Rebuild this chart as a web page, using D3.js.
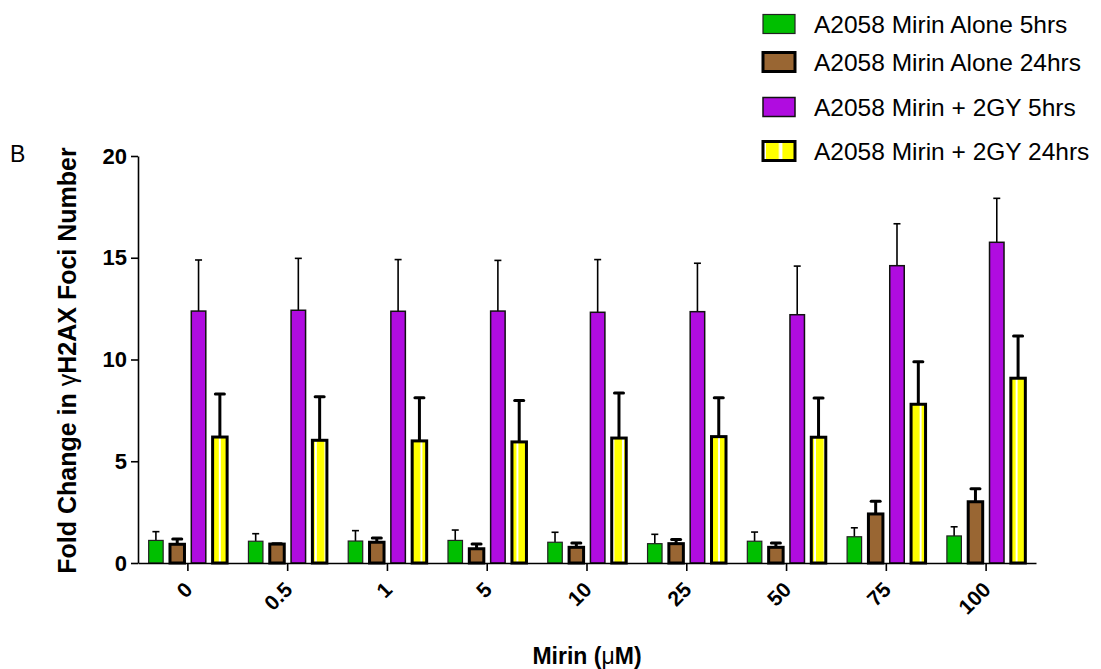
<!DOCTYPE html>
<html>
<head>
<meta charset="utf-8">
<script src="https://cdn.jsdelivr.net/npm/d3@7"></script>
<style>
  body { margin: 0; background: #fff; }
  svg { display: block; }
  text { font-family: Arial, "Liberation Sans", Helvetica, sans-serif; fill: #000; }
</style>
</head>
<body>
<svg id="chart" width="1101" height="669"></svg>
<script>
// Mirin concentrations (µM) on the x axis
const doses = ["0", "0.5", "1", "5", "10", "25", "50", "75", "100"];

const seriesLabels = [
  "A2058 Mirin Alone 5hrs",
  "A2058 Mirin Alone 24hrs",
  "A2058 Mirin + 2GY 5hrs",
  "A2058 Mirin + 2GY 24hrs"
];

// Fold change in γH2AX foci number: means and SEM
const alone5Mean  = [1.11, 1.07, 1.08, 1.11, 1.02, 0.95, 1.07, 1.29, 1.33];
const alone5Sem   = [0.43, 0.37, 0.51, 0.51, 0.49, 0.46, 0.45, 0.44, 0.45];
const alone24Mean = [0.92, 0.93, 1.02, 0.70, 0.77, 0.95, 0.77, 2.41, 3.01];
const alone24Sem  = [0.26, 0.02, 0.21, 0.23, 0.21, 0.21, 0.21, 0.62, 0.64];
const ir5Mean     = [12.38, 12.42, 12.37, 12.38, 12.32, 12.35, 12.20, 14.61, 15.76];
const ir5Sem      = [2.51, 2.55, 2.54, 2.49, 2.59, 2.38, 2.39, 2.06, 2.16];
const ir24Mean    = [6.19, 6.03, 6.00, 5.95, 6.14, 6.21, 6.18, 7.80, 9.08];
const ir24Sem     = [2.11, 2.14, 2.12, 2.03, 2.21, 1.91, 1.93, 2.09, 2.07];

const yTicks = [0, 5, 10, 15, 20];

// ---- styling per series ----
const seriesStyle = [
  { fill: "#00bf00", stroke: "#222", sw: 1.2, ew: 1.6, cap: 7 },
  { fill: "#996633", stroke: "#000", sw: 3,   ew: 3,   cap: 9 },
  { fill: "#b00ce0", stroke: "#111", sw: 1.5, ew: 1.6, cap: 7 },
  { fill: "url(#yellowStripes)", stroke: "#000", sw: 3, ew: 3, cap: 9 }
];

const series = [
  { mean: alone5Mean,  sem: alone5Sem },
  { mean: alone24Mean, sem: alone24Sem },
  { mean: ir5Mean,     sem: ir5Sem },
  { mean: ir24Mean,    sem: ir24Sem }
];

const svg = d3.select("#chart");
svg.append("rect").attr("width", 1101).attr("height", 669).attr("fill", "#fff");

// striped yellow fill (bars and legend swatch)
const defs = svg.append("defs");
function stripePattern(id, period, stripeW, offset) {
  const p = defs.append("pattern")
    .attr("id", id)
    .attr("patternUnits", "userSpaceOnUse")
    .attr("x", offset)
    .attr("width", period).attr("height", 10);
  p.append("rect").attr("width", period).attr("height", 10).attr("fill", "#ffff00");
  p.append("rect").attr("x", period - stripeW).attr("width", stripeW).attr("height", 10).attr("fill", "#fff");
}
stripePattern("yellowStripes", 9.6, 2, 0);
stripePattern("yellowStripesLegend", 16.4, 3.5, 3);

// ---- scales ----
const plot = { left: 138, right: 1036, top: 156, bottom: 563 };

const x0 = d3.scaleBand().domain(doses).range([plot.left, plot.right]).padding(0);
const x1 = d3.scaleBand().domain(d3.range(series.length))
  .range([0, x0.bandwidth()]).paddingInner(0.32).paddingOuter(0.5);
const y = d3.scaleLinear().domain([0, 20]).range([plot.bottom, plot.top]);

// ---- bars and error bars ----
series.forEach((s, si) => {
  const st = seriesStyle[si];
  const g = svg.append("g").attr("class", "series-" + si);
  const rows = doses.map((d, i) => ({ dose: d, mean: s.mean[i], sem: s.sem[i] }));
  const cx = d => x0(d.dose) + x1(si) + x1.bandwidth() / 2;

  g.selectAll("line.err").data(rows).join("line")
    .attr("class", "err")
    .attr("x1", cx).attr("x2", cx)
    .attr("y1", d => y(d.mean))
    .attr("y2", d => y(d.mean + d.sem))
    .attr("stroke", "#000").attr("stroke-width", st.ew);

  g.selectAll("line.cap").data(rows).join("line")
    .attr("class", "cap")
    .attr("x1", d => cx(d) - st.cap / 2)
    .attr("x2", d => cx(d) + st.cap / 2)
    .attr("y1", d => y(d.mean + d.sem))
    .attr("y2", d => y(d.mean + d.sem))
    .attr("stroke", "#000").attr("stroke-width", st.ew)
    .attr("stroke-linecap", st.ew > 2 ? "round" : "butt");

  g.selectAll("rect").data(rows).join("rect")
    .attr("x", d => x0(d.dose) + x1(si))
    .attr("y", d => y(d.mean))
    .attr("width", x1.bandwidth())
    .attr("height", d => y(0) - y(d.mean))
    .attr("fill", st.fill)
    .attr("stroke", st.stroke)
    .attr("stroke-width", st.sw);
});

// ---- axes ----
const yAxis = svg.append("g")
  .attr("transform", `translate(${plot.left},0)`)
  .call(d3.axisLeft(y).tickValues(yTicks).tickSize(7).tickSizeOuter(0).tickPadding(4));
yAxis.select(".domain").attr("stroke", "#000").attr("stroke-width", 1.6);
yAxis.selectAll(".tick line").attr("stroke", "#000").attr("stroke-width", 1.6);
yAxis.selectAll(".tick text")
  .attr("font-size", 22).attr("font-weight", "bold")
  .attr("font-family", "Arial, 'Liberation Sans', sans-serif")
  .attr("fill", "#000");

const xAxis = svg.append("g")
  .attr("transform", `translate(0,${plot.bottom})`)
  .call(d3.axisBottom(x0).tickSize(8).tickSizeOuter(0));
xAxis.select(".domain").attr("stroke", "#000").attr("stroke-width", 1.6);
xAxis.selectAll(".tick line").attr("stroke", "#000").attr("stroke-width", 1.6);
xAxis.selectAll(".tick text")
  .attr("font-size", 21).attr("font-weight", "bold")
  .attr("font-family", "Arial, 'Liberation Sans', sans-serif")
  .attr("fill", "#000")
  .attr("text-anchor", "end")
  .attr("x", 0).attr("y", 0).attr("dy", null)
  .attr("transform", "translate(6,28) rotate(-45)");

// ---- axis titles ----
const yTitle = svg.append("text")
  .attr("transform", `translate(76,${(plot.top + plot.bottom) / 2 + 1}) rotate(-90)`)
  .attr("text-anchor", "middle")
  .attr("font-size", 25).attr("font-weight", "bold");
yTitle.append("tspan").text("Fold Change in ");
yTitle.append("tspan").attr("font-weight", "normal").text("γ");
yTitle.append("tspan").text("H2AX Foci Number");

const xTitle = svg.append("text")
  .attr("x", 587)
  .attr("y", 664)
  .attr("text-anchor", "middle")
  .attr("font-size", 23).attr("font-weight", "bold");
xTitle.append("tspan").text("Mirin (");
xTitle.append("tspan").attr("font-weight", "normal").text("μ");
xTitle.append("tspan").text("M)");

// panel letter
svg.append("text").attr("x", 10).attr("y", 162).attr("font-size", 23).text("B");

// ---- legend ----
const legendRowY = [24, 62, 107, 151];
const legend = svg.append("g");
seriesLabels.forEach((label, i) => {
  const st = seriesStyle[i];
  const row = legend.append("g").attr("transform", `translate(763,${legendRowY[i]})`);
  row.append("rect")
    .attr("x", 0).attr("y", -9.5).attr("width", 32).attr("height", 19)
    .attr("fill", i === 3 ? "url(#yellowStripesLegend)" : st.fill)
    .attr("stroke", st.stroke).attr("stroke-width", st.sw);
  row.append("text")
    .attr("x", 51).attr("y", 9)
    .attr("font-size", 24.5)
    .text(label);
});
</script>
</body>
</html>
